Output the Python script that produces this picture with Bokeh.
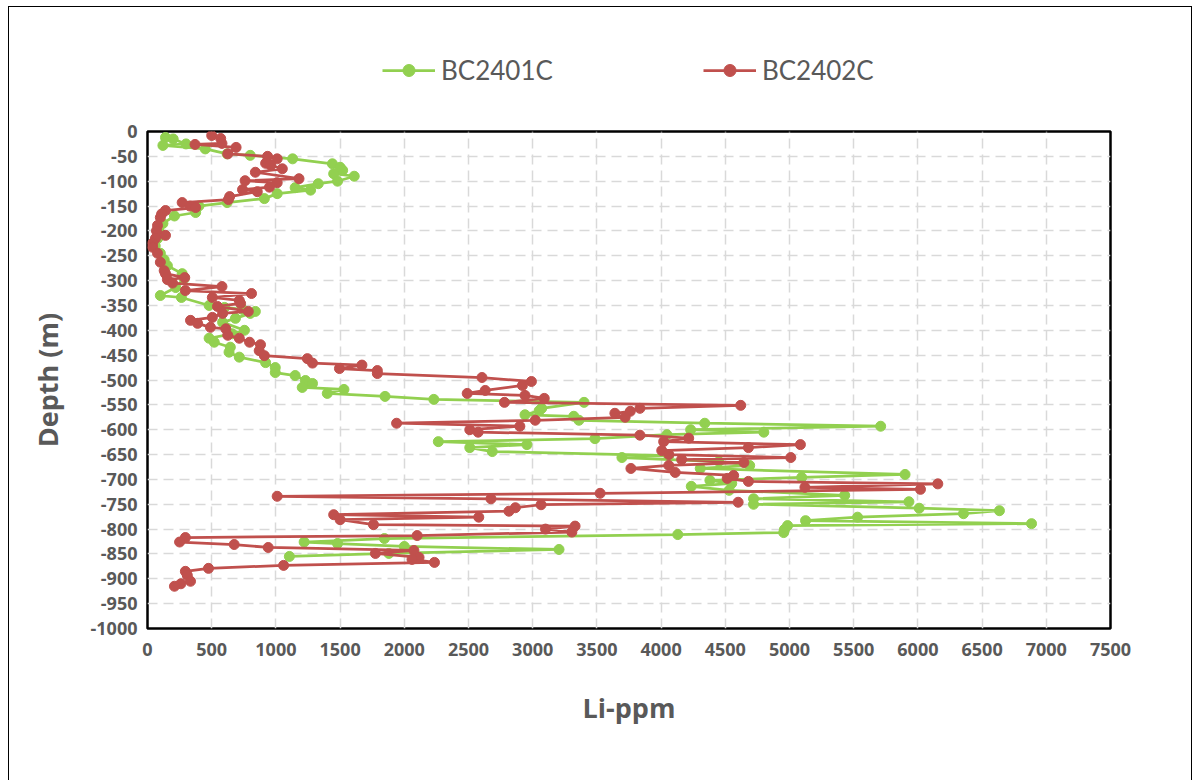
from bokeh.plotting import figure
from bokeh.layouts import column
from bokeh.models import ColumnDataSource, Legend, LegendItem, FixedTicker, Range1d
from bokeh.embed import file_html
from bokeh.resources import INLINE

# ---- data ----
series_names = ["BC2401C", "BC2402C"]

green_depth = [-12, -15, -25, -28, -35, -45, -48, -55, -65, -72, -78, -85, -90, -100, -105, -113,
               -118, -125, -135, -143, -150, -163, -170, -185, -200, -215, -230, -245, -258, -270,
               -286, -296, -314, -330, -334, -350, -354, -358, -362, -366, -376, -384, -400, -407,
               -416, -424, -434, -444, -454, -465, -475, -485, -491, -501, -507, -515, -519, -527,
               -533, -539, -545, -557, -562, -570, -573, -581, -587, -593, -600, -605, -610, -618,
               -624, -630, -636, -644, -652, -656, -664, -672, -678, -690, -696, -702, -708, -714,
               -722, -732, -739, -745, -750, -758, -763, -769, -776, -783, -789, -793, -801, -807,
               -811, -819, -826, -829, -835, -841, -849, -855]
green_li = [140, 200, 300, 120, 450, 620, 800, 1130, 1440, 1500, 1520, 1450, 1610, 1480, 1330, 1150,
            1270, 1010, 910, 620, 400, 375, 210, 120, 90, 80, 60, 100, 130, 155,
            270, 285, 220, 100, 264, 480, 600, 740, 840, 800, 685, 585, 755, 660,
            480, 520, 645, 635, 715, 920, 995, 995, 1150, 1230, 1285, 1205, 1530, 1400,
            1850, 2230, 3400, 3070, 3050, 2940, 3320, 3360, 4340, 5710, 4230, 4800, 4045, 3485,
            2265, 2955, 2510, 2685, 4060, 3695, 4450, 4690, 4305, 5900, 5095, 4380, 4550, 4235,
            4530, 5430, 4720, 5930, 4720, 6010, 6635, 6355, 5530, 5125, 6885, 4985, 4960, 4955,
            4130, 1845, 1220, 1480, 2000, 3205, 1880, 1105]

red_depth = [-8, -14, -24, -26, -32, -45, -50, -55, -64, -68, -75, -82, -95, -99, -103, -112, -117,
             -121, -131, -137, -143, -150, -153, -159, -166, -173, -189, -200, -209, -215, -225,
             -233, -245, -263, -280, -286, -294, -298, -305, -312, -320, -326, -334, -340, -346,
             -352, -362, -366, -374, -380, -386, -394, -397, -410, -416, -424, -429, -441, -451,
             -457, -466, -470, -477, -481, -487, -495, -503, -511, -521, -527, -531, -537, -545,
             -551, -557, -563, -567, -575, -581, -587, -593, -600, -605, -611, -617, -624, -630,
             -636, -642, -650, -656, -660, -666, -672, -678, -686, -692, -698, -704, -709, -716,
             -720, -728, -734, -739, -746, -751, -757, -764, -771, -776, -781, -791, -794, -800,
             -806, -813, -817, -826, -831, -837, -843, -849, -857, -861, -867, -873, -879, -885,
             -893, -905, -910, -915]
red_li = [500, 570, 580, 370, 690, 625, 935, 1010, 920, 960, 1050, 840, 1180, 760, 1010, 950, 740,
          855, 640, 630, 270, 330, 375, 140, 110, 100, 78, 70, 140, 62, 40,
          40, 78, 100, 130, 140, 290, 155, 195, 580, 295, 810, 505, 715, 725,
          545, 785, 585, 505, 335, 390, 490, 610, 625, 715, 795, 880, 870, 910,
          1245, 1285, 1670, 1495, 1790, 1790, 2605, 2990, 2920, 2630, 2490, 2940, 3090, 2780,
          4620, 3835, 3760, 3640, 3720, 3020, 1940, 2900, 2510, 2575, 3835, 4215, 4020, 5085,
          4680, 4005, 4060, 5010, 4160, 4645, 4060, 3765, 4110, 4565, 4515, 4680, 6155, 5120,
          6020, 3525, 1010, 2675, 4600, 3065, 2865, 2815, 1450, 2580, 1500, 1760, 3330, 3100,
          3305, 2100, 295, 250, 675, 940, 2075, 1775, 2115, 2060, 2235, 1060, 475, 295,
          310, 335, 260, 210]

x_ticks = list(range(0, 7501, 500))
y_ticks = list(range(-1000, 1, 50))

GREEN = "#92D050"
RED = "#C0504D"
GRAY_TXT = "#595959"

src_g = ColumnDataSource(dict(x=green_li, y=green_depth))
src_r = ColumnDataSource(dict(x=red_li, y=red_depth))

# ---- header figure that only carries the legend (data lies outside its range) ----
hdr = figure(width=1182, height=104, x_range=Range1d(0, 7500), y_range=Range1d(10, 20),
             min_border=0, output_backend="svg", toolbar_location=None)
hdr.axis.visible = False
hdr.grid.visible = False
hdr.outline_line_color = None
hdr.background_fill_color = "white"
hdr.border_fill_color = "white"

hlg = hdr.line("x", "y", source=src_g, line_color=GREEN, line_width=2.75)
hsg = hdr.scatter("x", "y", source=src_g, marker="circle", size=10, fill_color=GREEN, line_color=GREEN)
hlr = hdr.line("x", "y", source=src_r, line_color=RED, line_width=2.75)
hsr = hdr.scatter("x", "y", source=src_r, marker="circle", size=10, fill_color=RED, line_color=RED)

legend = Legend(items=[LegendItem(label=series_names[0], renderers=[hlg, hsg]),
                       LegendItem(label=series_names[1], renderers=[hlr, hsr])],
                location=(235, 25), orientation="horizontal",
                border_line_color=None, background_fill_alpha=0,
                padding=0, margin=0, spacing=150,
                glyph_width=53, glyph_height=30, label_height=30,
                label_standoff=6, label_text_font="Lato", label_text_font_size="26px",
                label_text_color=GRAY_TXT)
hdr.add_layout(legend, "center")

# ---- main chart ----
p = figure(width=1182, height=677,
           min_border_left=138, min_border_right=81, min_border_top=20, min_border_bottom=160,
           x_range=(0, 7500), y_range=(-1000, 0),
           output_backend="svg", toolbar_location=None)

p.background_fill_color = "white"
p.border_fill_color = "white"
p.outline_line_color = "black"
p.outline_line_width = 2.5

for ax, ticks in ((p.xaxis, x_ticks), (p.yaxis, y_ticks)):
    ax.ticker = FixedTicker(ticks=ticks)
    ax.major_label_overrides = {t: str(t) for t in ticks}
    ax.major_tick_in = 0
    ax.major_tick_out = 0
    ax.minor_tick_in = 0
    ax.minor_tick_out = 0
    ax.axis_line_color = None
    ax.major_label_text_font = "Open Sans"
    ax.major_label_text_font_style = "bold"
    ax.major_label_text_font_size = "18px"
    ax.major_label_text_color = GRAY_TXT
    ax.axis_label_text_font = "Open Sans"
    ax.axis_label_text_font_style = "bold"
    ax.axis_label_text_font_size = "27px"
    ax.axis_label_text_color = GRAY_TXT

p.xaxis.axis_label = "Li-ppm"
p.yaxis.axis_label = "Depth (m)"
p.xaxis.major_label_standoff = 14
p.yaxis.major_label_standoff = 10
p.xaxis.axis_label_standoff = 30
p.yaxis.axis_label_standoff = 22

for g in (p.xgrid, p.ygrid):
    g.grid_line_color = "#d9d9d9"
    g.grid_line_width = 1.5
    g.grid_line_dash = "10 6"

p.line("x", "y", source=src_g, line_color=GREEN, line_width=2.75)
p.scatter("x", "y", source=src_g, marker="circle", size=10, fill_color=GREEN, line_color=GREEN)
p.line("x", "y", source=src_r, line_color=RED, line_width=2.75)
p.scatter("x", "y", source=src_r, marker="circle", size=10, fill_color=RED, line_color=RED)

layout = column(hdr, p, spacing=0)
layout.margin = (6, 0, 0, 8)
layout.styles = {"border": "1px solid #000000"}

open("out.html", "w").write(file_html(layout, INLINE))
